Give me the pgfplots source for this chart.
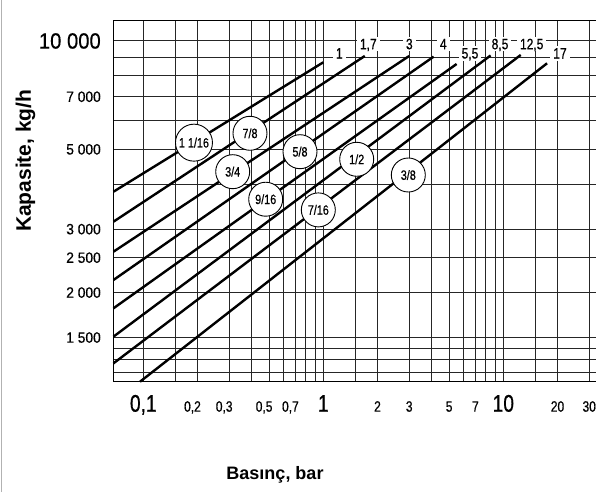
\documentclass[border=0pt]{standalone}
\usepackage{pgfplots}
\pgfplotsset{compat=1.18}
\usepackage{fontspec}
\setmainfont{Liberation Sans}
\newfontfamily\cf[FakeStretch=0.8,FakeBold=0.6]{Liberation Sans}
\newfontfamily\cy[FakeStretch=0.92,FakeBold=0.4]{Liberation Sans}
\newcommand\xs[1]{{\cf\fontsize{15}{15}\selectfont #1}}
\newcommand\xb[1]{{\cf\fontsize{24}{24}\selectfont #1}}
\newcommand\xr[1]{\xs{\makebox[0pt][r]{0,}#1}}
\newcommand\ys[1]{{\cy\fontsize{15}{15}\selectfont #1}}
\begin{document}
\begin{tikzpicture}
\begin{axis}[name=ax, at={(0,0)}, anchor=south west, scale only axis,
 width=498.2pt, height=361pt,
 xmode=log, ymode=log, xmin=0.0683, xmax=40, ymin=1131, ymax=11387, clip=false,
 xtick={0.1,0.15,0.2,0.3,0.4,0.5,0.6,0.7,0.8,0.9,1,1.5,2,3,4,5,6,7,8,9,10,15,20,30},
 xticklabels={{\xb{0,1}},{},{\xr{2}},{\xr{3}},{},{\xr{5}},{},{\xr{7}},{},{},{\xb{1}},{},{\xs{2}},{\xs{3}},{},{\xs{5}},{},{\xs{7}},{},{},{\xb{10}},{},{\xs{20}},{\xs{30}}},
 ytick={1200,1300,1400,1500,2000,2500,3000,4000,5000,6000,7000,8000,9000,10000},
 yticklabels={{},{},{},{\ys{1 500}},{\ys{2 000}},{\ys{2 500}},{\ys{3 000}},{},{\ys{5 000}},{},{\ys{7 000}},{},{},{\cy\fontsize{22}{22}\selectfont 10 000}},
 minor xtick={}, minor ytick={},
 grid=major, major grid style={black!85, line width=1pt},
 major tick length=0pt,
 axis line style={black, line width=1.3pt},
 xticklabel style={anchor=base, inner sep=0pt, yshift=-30pt},
 yticklabel style={anchor=east, inner sep=0pt, xshift=-12.5pt},
]
\addplot[black, line width=2.4pt] coordinates {(0.0683,3814) (1,8726)};
\addplot[black, line width=2.4pt] coordinates {(0.0683,3148) (1.7,9085)};
\addplot[black, line width=2.4pt] coordinates {(0.0683,2598) (3,9085)};
\addplot[black, line width=2.4pt] coordinates {(0.0683,2168) (4.1,9045)};
\addplot[black, line width=2.4pt] coordinates {(0.0683,1809) (5.5,8630)};
\addplot[black, line width=2.4pt] coordinates {(0.0683,1509) (8.5,9115)};
\addplot[black, line width=2.4pt] coordinates {(0.0683,1272) (12.5,9145)};
\addplot[black, line width=2.4pt] coordinates {(0.0959,1131) (17.5,8670)};

\tikzset{cl/.style={circle, draw=black, line width=0.9pt, fill=white, minimum size=34pt, inner sep=0pt, font=\cf\fontsize{13.5}{13.5}\selectfont},
 tl/.style={fill=white, inner xsep=3pt, inner ysep=2pt, text height=10.5pt, text depth=0pt, font=\cf\fontsize{15}{15}\selectfont}}
\node[cl, minimum size=37pt] at (axis cs:0.1912,5218) {1 1/16};
\node[cl] at (axis cs:0.3915,5541) {7/8};
\node[cl] at (axis cs:0.3138,4334) {3/4};
\node[cl] at (axis cs:0.7422,4925) {5/8};
\node[cl] at (axis cs:0.4786,3634) {9/16};
\node[cl] at (axis cs:1.533,4692) {1/2};
\node[cl] at (axis cs:0.938,3394) {7/16};
\node[cl] at (axis cs:2.966,4243) {3/8};

\node[tl] at (axis cs:1.227,9243) {1};
\node[tl] at (axis cs:1.778,9810) {1,7};
\node[tl] at (axis cs:3.004,9810) {3};
\node[tl] at (axis cs:4.64,9810) {4};
\node[tl] at (axis cs:6.53,9243) {5,5};
\node[tl] at (axis cs:9.59,9810) {8,5};
\node[tl] at (axis cs:14.38,9810) {12,5};
\node[tl] at (axis cs:20.65,9243) {17};
\end{axis}
\node[font=\bfseries\fontsize{18}{18}\selectfont] at (161.5pt,-93.3pt) {Basınç, bar};
\node[rotate=90, font=\bfseries\fontsize{21}{21}\selectfont] at (-88pt,221pt) {Kapasite, kg/h};
\draw[gray!60, line width=1pt] (-112pt,-110.3pt) -- (-112pt,381.7pt);
\pgfresetboundingbox
\path[use as bounding box] (-113.5pt,-110.3pt) rectangle (482.5pt,381.7pt);
\end{tikzpicture}
\end{document}
